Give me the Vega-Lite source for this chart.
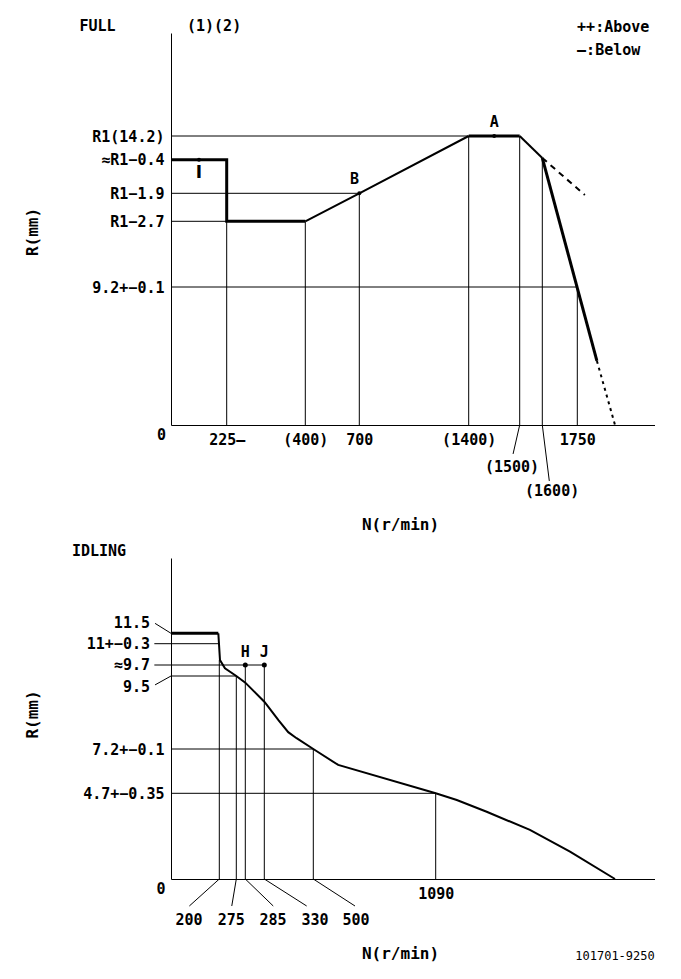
{
  "$schema": "https://vega.github.io/schema/vega-lite/v6.json",
  "padding": {"left": 24, "top": 19, "right": 0, "bottom": 0},
  "background": "white",
  "spacing": 12,
  "config": {
    "view": {"stroke": null},
    "axis": {"grid": false, "ticks": false, "tickSize": 0, "domainColor": "black", "domainWidth": 1, "labelFont": "DejaVu Sans Mono", "labelFontWeight": "bold", "labelFontSize": 15, "labelColor": "black", "titleFont": "DejaVu Sans Mono", "titleFontWeight": "bold", "titleFontSize": 16, "titleColor": "black", "labelOverlap": false, "labelFlush": false},
    "text": {"font": "DejaVu Sans Mono", "fontWeight": "bold", "fontSize": 15, "color": "black"},
    "line": {"color": "black"},
    "rule": {"color": "black"},
    "point": {"color": "black", "filled": true, "opacity": 1}
  },
  "datasets": {
    "fullCurve": [
      {"part": "thick", "i": 1, "n": 0, "r": 13.8},
      {"part": "thick", "i": 2, "n": 225, "r": 13.8},
      {"part": "thick", "i": 3, "n": 225, "r": 11.5},
      {"part": "thick", "i": 4, "n": 400, "r": 11.5},
      {"part": "rise", "i": 5, "n": 400, "r": 11.5},
      {"part": "rise", "i": 6, "n": 700, "r": 12.3},
      {"part": "rise", "i": 7, "n": 1400, "r": 14.2},
      {"part": "flat", "i": 8, "n": 1400, "r": 14.2},
      {"part": "flat", "i": 9, "n": 1500, "r": 14.2},
      {"part": "fall", "i": 10, "n": 1500, "r": 14.2},
      {"part": "fall", "i": 11, "n": 1600, "r": 13.83},
      {"part": "steep", "i": 12, "n": 1600, "r": 13.83},
      {"part": "steep", "i": 13, "n": 1802, "r": 4.27},
      {"part": "above", "i": 14, "n": 1600, "r": 13.83},
      {"part": "above", "i": 15, "n": 1770, "r": 12.25},
      {"part": "below", "i": 16, "n": 1802, "r": 4.27},
      {"part": "below", "i": 17, "n": 1850, "r": 0}
    ],
    "fullRules": [
      {"n": 225, "r": 0, "n2": 225, "r2": 11.5},
      {"n": 400, "r": 0, "n2": 400, "r2": 11.5},
      {"n": 700, "r": 0, "n2": 700, "r2": 12.3},
      {"n": 1400, "r": 0, "n2": 1400, "r2": 14.2},
      {"n": 1500, "r": 0, "n2": 1500, "r2": 14.2},
      {"n": 1600, "r": 0, "n2": 1600, "r2": 13.83},
      {"n": 1750, "r": 0, "n2": 1750, "r2": 9.2},
      {"n": 0, "r": 14.2, "n2": 1400, "r2": 14.2},
      {"n": 0, "r": 12.3, "n2": 700, "r2": 12.3},
      {"n": 0, "r": 11.5, "n2": 225, "r2": 11.5},
      {"n": 0, "r": 9.2, "n2": 1750, "r2": 9.2},
      {"n": 1500, "r": 0, "n2": 1487, "r2": -1.93},
      {"n": 1600, "r": 0, "n2": 1630, "r2": -3.73}
    ],
    "fullPoints": [
      {"n": 113, "r": 13.8},
      {"n": 700, "r": 12.3},
      {"n": 1450, "r": 14.2}
    ],
    "fullText": [
      {"n": -297, "r": 20.39, "t": "FULL"},
      {"n": 174, "r": 20.39, "t": "(1)(2)"},
      {"n": 1450, "r": 14.99, "t": "A"},
      {"n": 673, "r": 12.94, "t": "B"},
      {"n": -38, "r": -0.65, "t": "0"},
      {"n": 1485, "r": -2.8, "t": "(1500)"},
      {"n": 1642, "r": -4.4, "t": "(1600)"}
    ],
    "fullMarkI": [
      {"n": 113, "r": 13.21, "t": "I"}
    ],
    "fullLegend": [
      {"n": 1749, "r": 20.34, "t": "++:Above"},
      {"n": 1749, "r": 19.04, "t": "—:Below"}
    ],
    "idleCurve": [
      {"part": "thick", "i": 1, "n": 0, "r": 11.5},
      {"part": "thick", "i": 2, "n": 196, "r": 11.5},
      {"part": "thin", "i": 3, "n": 196, "r": 11.5},
      {"part": "thin", "i": 4, "n": 203, "r": 10.0},
      {"part": "thin", "i": 5, "n": 225, "r": 9.64},
      {"part": "thin", "i": 6, "n": 275, "r": 9.5},
      {"part": "thin", "i": 7, "n": 285, "r": 9.29},
      {"part": "thin", "i": 8, "n": 330, "r": 8.69},
      {"part": "thin", "i": 9, "n": 344, "r": 8.53},
      {"part": "thin", "i": 10, "n": 379, "r": 8.11},
      {"part": "thin", "i": 11, "n": 413, "r": 7.73},
      {"part": "thin", "i": 12, "n": 442, "r": 7.54},
      {"part": "thin", "i": 13, "n": 500, "r": 7.2},
      {"part": "thin", "i": 14, "n": 620, "r": 6.3},
      {"part": "thin", "i": 15, "n": 1090, "r": 4.7},
      {"part": "thin", "i": 16, "n": 1150, "r": 4.33},
      {"part": "thin", "i": 17, "n": 1235, "r": 3.69},
      {"part": "thin", "i": 18, "n": 1358, "r": 2.69},
      {"part": "thin", "i": 19, "n": 1472, "r": 1.5},
      {"part": "thin", "i": 20, "n": 1600, "r": 0}
    ],
    "idleRules": [
      {"n": 200, "r": 0, "n2": 200, "r2": 10.0},
      {"n": 275, "r": 0, "n2": 275, "r2": 9.5},
      {"n": 285, "r": 0, "n2": 285, "r2": 9.7},
      {"n": 330, "r": 0, "n2": 330, "r2": 9.7},
      {"n": 500, "r": 0, "n2": 500, "r2": 7.2},
      {"n": 1090, "r": 0, "n2": 1090, "r2": 4.7},
      {"n": -69, "r": 11, "n2": 200, "r2": 11},
      {"n": -69, "r": 9.7, "n2": 330, "r2": 9.7},
      {"n": 0, "r": 9.5, "n2": 275, "r2": 9.5},
      {"n": 0, "r": 7.2, "n2": 500, "r2": 7.2},
      {"n": 0, "r": 4.7, "n2": 1090, "r2": 4.7},
      {"n": -66, "r": 9.22, "n2": 0, "r2": 9.5},
      {"n": -66, "r": 11.83, "n2": 0, "r2": 11.5},
      {"n": 200, "r": 0, "n2": 76, "r2": -1.48},
      {"n": 275, "r": 0, "n2": 255, "r2": -1.48},
      {"n": 285, "r": 0, "n2": 361, "r2": -1.48},
      {"n": 330, "r": 0, "n2": 477, "r2": -1.48},
      {"n": 500, "r": 0, "n2": 701, "r2": -1.48}
    ],
    "idlePoints": [
      {"n": 285, "r": 9.7},
      {"n": 330, "r": 9.7}
    ],
    "idleText": [
      {"n": -298, "r": 14.22, "t": "IDLING"},
      {"n": 285, "r": 10.49, "t": "H"},
      {"n": 330, "r": 10.49, "t": "J"},
      {"n": -41, "r": -0.55, "t": "0"},
      {"n": 74.5, "r": -2.25, "t": "200"},
      {"n": 253, "r": -2.25, "t": "275"},
      {"n": 360, "r": -2.25, "t": "285"},
      {"n": 508, "r": -2.25, "t": "330"},
      {"n": 706, "r": -2.25, "t": "500"}
    ],
    "idleYLabels": [
      {"n": -87, "r": 11.83, "t": "11.5"},
      {"n": -87, "r": 11, "t": "11+−0.3"},
      {"n": -87, "r": 9.7, "t": "≈9.7"},
      {"n": -87, "r": 9.15, "t": "9.5"}
    ],
    "idleCode": [
      {"n": 1600, "r": -4.22, "t": "101701-9250"}
    ]
  },
  "vconcat": [
    {
      "width": 484,
      "height": 392,
      "encoding": {
        "x": {
          "field": "n", "type": "quantitative",
          "scale": {"domain": [0, 225, 400, 700, 1400, 1500, 1600, 1750, 1850, 2000], "range": [0, 55.7, 134.3, 188.3, 297.7, 348.7, 371.3, 406.3, 444, 484], "zero": false, "nice": false},
          "axis": {"values": [225, 400, 700, 1400, 1750], "labelExpr": "datum.value == 225 ? '225—' : datum.value == 400 ? '(400)' : datum.value == 700 ? '700' : datum.value == 1400 ? '(1400)' : '1750'", "labelPadding": 7, "title": "N(r/min)", "titleX": 229, "titleY": 99, "titleBaseline": "middle", "titleAlign": "center"}
        },
        "y": {
          "field": "r", "type": "quantitative",
          "scale": {"domain": [0, 9.2, 11.5, 12.3, 13.8, 14.2, 20], "range": [392, 254, 188.3, 160.3, 126.7, 103, 0], "zero": false, "nice": false},
          "axis": {"values": [9.2, 11.5, 12.3, 13.8, 14.2], "labelExpr": "datum.value == 14.2 ? 'R1(14.2)' : datum.value == 13.8 ? '≈R1−0.4' : datum.value == 12.3 ? 'R1−1.9' : datum.value == 11.5 ? 'R1−2.7' : '9.2+−0.1'", "labelPadding": 7, "title": "R(mm)", "titleX": -139, "titleY": 198.5, "titleBaseline": "middle", "titleAlign": "center", "titleAngle": -90}
        }
      },
      "layer": [
        {"data": {"name": "fullRules"}, "mark": {"type": "rule", "strokeWidth": 1}, "encoding": {"x2": {"field": "n2"}, "y2": {"field": "r2"}}},
        {"data": {"name": "fullCurve"}, "transform": [{"filter": "datum.part == 'thick' || datum.part == 'flat' || datum.part == 'steep'"}], "mark": {"type": "line", "strokeWidth": 3}, "encoding": {"order": {"field": "i"}, "detail": {"field": "part"}}},
        {"data": {"name": "fullCurve"}, "transform": [{"filter": "datum.part == 'rise' || datum.part == 'fall'"}], "mark": {"type": "line", "strokeWidth": 2}, "encoding": {"order": {"field": "i"}, "detail": {"field": "part"}}},
        {"data": {"name": "fullCurve"}, "transform": [{"filter": "datum.part == 'above'"}], "mark": {"type": "line", "strokeWidth": 2, "strokeDash": [6, 5]}, "encoding": {"order": {"field": "i"}}},
        {"data": {"name": "fullCurve"}, "transform": [{"filter": "datum.part == 'below'"}], "mark": {"type": "line", "strokeWidth": 2, "strokeDash": [3, 4]}, "encoding": {"order": {"field": "i"}}},
        {"data": {"name": "fullPoints"}, "mark": {"type": "point", "size": 16}},
        {"data": {"name": "fullText"}, "mark": {"type": "text", "align": "center", "baseline": "middle"}, "encoding": {"text": {"field": "t"}}},
        {"data": {"name": "fullMarkI"}, "mark": {"type": "text", "align": "center", "baseline": "middle", "font": "DejaVu Sans", "fontSize": 17}, "encoding": {"text": {"field": "t"}}},
        {"data": {"name": "fullLegend"}, "mark": {"type": "text", "align": "left", "baseline": "middle"}, "encoding": {"text": {"field": "t"}}}
      ]
    },
    {
      "width": 484,
      "height": 321,
      "encoding": {
        "x": {
          "field": "n", "type": "quantitative",
          "scale": {"domain": [0, 200, 275, 285, 330, 500, 1090, 1600, 1800], "range": [0, 48.3, 65.3, 74.3, 93.3, 142.3, 264.7, 444, 484], "zero": false, "nice": false},
          "axis": {"values": [1090], "labelExpr": "'1090'", "labelPadding": 7, "title": "N(r/min)", "titleX": 229, "titleY": 74, "titleBaseline": "middle", "titleAlign": "center"}
        },
        "y": {
          "field": "r", "type": "quantitative",
          "scale": {"domain": [0, 4.7, 7.2, 9.5, 9.7, 11, 11.5, 14], "range": [321, 235.3, 191, 118, 107, 85.7, 75.3, 0], "zero": false, "nice": false},
          "axis": {"values": [4.7, 7.2], "labelExpr": "datum.value == 7.2 ? '7.2+−0.1' : '4.7+−0.35'", "labelPadding": 7, "title": "R(mm)", "titleX": -139, "titleY": 156, "titleBaseline": "middle", "titleAlign": "center", "titleAngle": -90}
        }
      },
      "layer": [
        {"data": {"name": "idleRules"}, "mark": {"type": "rule", "strokeWidth": 1}, "encoding": {"x2": {"field": "n2"}, "y2": {"field": "r2"}}},
        {"data": {"name": "idleCurve"}, "transform": [{"filter": "datum.part == 'thick'"}], "mark": {"type": "line", "strokeWidth": 3}, "encoding": {"order": {"field": "i"}}},
        {"data": {"name": "idleCurve"}, "transform": [{"filter": "datum.part == 'thin'"}], "mark": {"type": "line", "strokeWidth": 2}, "encoding": {"order": {"field": "i"}}},
        {"data": {"name": "idlePoints"}, "mark": {"type": "point", "size": 25}},
        {"data": {"name": "idleText"}, "mark": {"type": "text", "align": "center", "baseline": "middle"}, "encoding": {"text": {"field": "t"}}},
        {"data": {"name": "idleYLabels"}, "mark": {"type": "text", "align": "right", "baseline": "middle"}, "encoding": {"text": {"field": "t"}}},
        {"data": {"name": "idleCode"}, "mark": {"type": "text", "align": "center", "baseline": "middle", "fontSize": 12, "fontWeight": "normal"}, "encoding": {"text": {"field": "t"}}}
      ]
    }
  ]
}
